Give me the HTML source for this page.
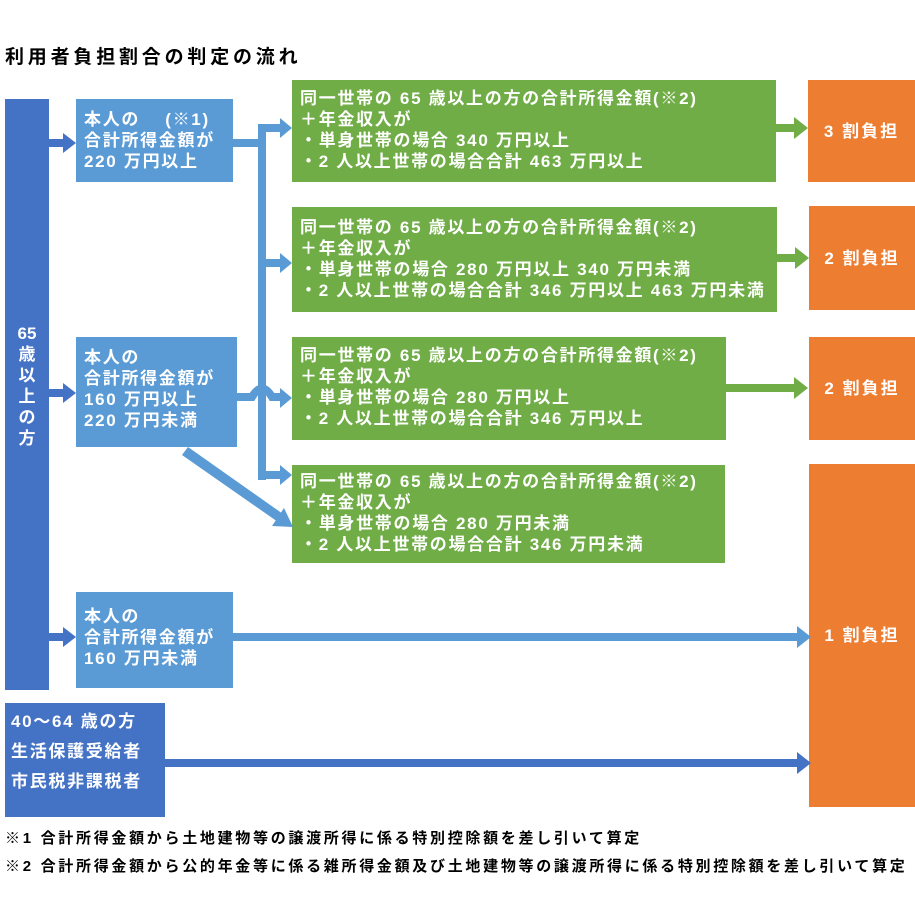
<!DOCTYPE html>
<html><head><meta charset="utf-8"><style>
body{margin:0;width:915px;height:911px;background:#fff;position:relative;overflow:hidden;font-family:"Liberation Sans","Noto Sans CJK JP",sans-serif;font-weight:bold;}
.b{position:absolute;color:#fff;font-size:17px;letter-spacing:1.7px;line-height:21px;box-sizing:border-box;white-space:nowrap;}
.db{background:#4472C4}.lb{background:#5B9BD5}.g{background:#70AD47}.o{background:#ED7D31}
.o{display:flex;align-items:center;justify-content:center;font-size:17px;letter-spacing:2px}
svg{position:absolute;left:0;top:0}
.t{position:absolute;font-size:15px;letter-spacing:2.7px;color:#000;white-space:nowrap}
</style></head><body>
<div class="t" style="left:5px;top:42px;font-size:19px;letter-spacing:3.8px">利用者負担割合の判定の流れ</div>
<div class="b db" style="left:5px;top:99px;width:44px;height:591px;text-align:center;padding-top:224px;letter-spacing:0">65<br>歳<br>以<br>上<br>の<br>方</div>
<div class="b lb" style="left:76px;top:99px;width:157px;height:83px;padding:10px 0 0 8px">本人の　 (※1)<br>合計所得金額が<br>220 万円以上</div>
<div class="b lb" style="left:76px;top:337px;width:161px;height:110px;padding:10px 0 0 8px">本人の<br>合計所得金額が<br>160 万円以上<br>220 万円未満</div>
<div class="b lb" style="left:76px;top:592px;width:157px;height:96px;padding:14px 0 0 8px">本人の<br>合計所得金額が<br>160 万円未満</div>
<div class="b db" style="left:5px;top:703px;width:160px;height:114px;padding:4px 0 0 6px;line-height:30px">40～64 歳の方<br>生活保護受給者<br>市民税非課税者</div>
<div class="b g" style="left:292px;top:80px;width:484px;height:102px;padding:8px 0 0 8px">同一世帯の 65 歳以上の方の合計所得金額(※2)<br>＋年金収入が<br>・単身世帯の場合 340 万円以上<br>・2 人以上世帯の場合合計 463 万円以上</div>
<div class="b g" style="left:292px;top:207px;width:485px;height:105px;padding:10px 0 0 8px">同一世帯の 65 歳以上の方の合計所得金額(※2)<br>＋年金収入が<br>・単身世帯の場合 280 万円以上 340 万円未満<br>・2 人以上世帯の場合合計 346 万円以上 463 万円未満</div>
<div class="b g" style="left:292px;top:337px;width:434px;height:103px;padding:8px 0 0 8px">同一世帯の 65 歳以上の方の合計所得金額(※2)<br>＋年金収入が<br>・単身世帯の場合 280 万円以上<br>・2 人以上世帯の場合合計 346 万円以上</div>
<div class="b g" style="left:292px;top:465px;width:433px;height:98px;padding:6px 0 0 8px">同一世帯の 65 歳以上の方の合計所得金額(※2)<br>＋年金収入が<br>・単身世帯の場合 280 万円未満<br>・2 人以上世帯の場合合計 346 万円未満</div>
<div class="b o" style="left:808px;top:80px;width:107px;height:102px">3 割負担</div>
<div class="b o" style="left:809px;top:206px;width:106px;height:104px">2 割負担</div>
<div class="b o" style="left:809px;top:337px;width:106px;height:103px">2 割負担</div>
<div class="b o" style="left:809px;top:464px;width:106px;height:343px">1 割負担</div>
<svg width="915" height="911">
<g fill="#4472C4" stroke="none">
<rect x="49" y="139" width="16" height="8"/><polygon points="63,133 76,143 63,153"/>
<rect x="49" y="389" width="16" height="8"/><polygon points="63,383 76,393 63,403"/>
<rect x="49" y="633" width="16" height="8"/><polygon points="63,627 76,637 63,647"/>
<rect x="165" y="759" width="634" height="8"/><polygon points="797,752 811,763 797,774"/>
</g>
<g fill="#5B9BD5" stroke="none">
<rect x="233" y="139" width="33" height="8"/>
<rect x="258" y="124" width="8" height="356"/>
<rect x="262" y="124" width="20" height="8"/><polygon points="280,118 292,128 280,138"/>
<rect x="262" y="259" width="20" height="8"/><polygon points="280,253 292,263 280,273"/>
<rect x="262" y="471" width="20" height="8"/><polygon points="280,465 292,475 280,485"/>
<rect x="233" y="633" width="566" height="8"/><polygon points="797,626 811,637 797,648"/>
<polygon points="280,388 292,398 280,408"/>
<polygon points="182,455 188,447 283,514 278,522"/><polygon points="272,526 293,527 284,508"/>
</g>
<path d="M237,397 H252 Q262,380 272,397 H282" fill="none" stroke="#5B9BD5" stroke-width="8"/>
<g fill="#70AD47">
<rect x="776" y="124" width="20" height="8"/><polygon points="794,117 808,128 794,139"/>
<rect x="777" y="254" width="20" height="8"/><polygon points="795,247 809,258 795,269"/>
<rect x="726" y="384" width="70" height="8"/><polygon points="794,377 808,388 794,399"/>
</g>
</svg>
<div class="t" style="left:5px;top:827px">※1 合計所得金額から土地建物等の譲渡所得に係る特別控除額を差し引いて算定</div>
<div class="t" style="left:5px;top:855px">※2 合計所得金額から公的年金等に係る雑所得金額及び土地建物等の譲渡所得に係る特別控除額を差し引いて算定</div>
</body></html>
